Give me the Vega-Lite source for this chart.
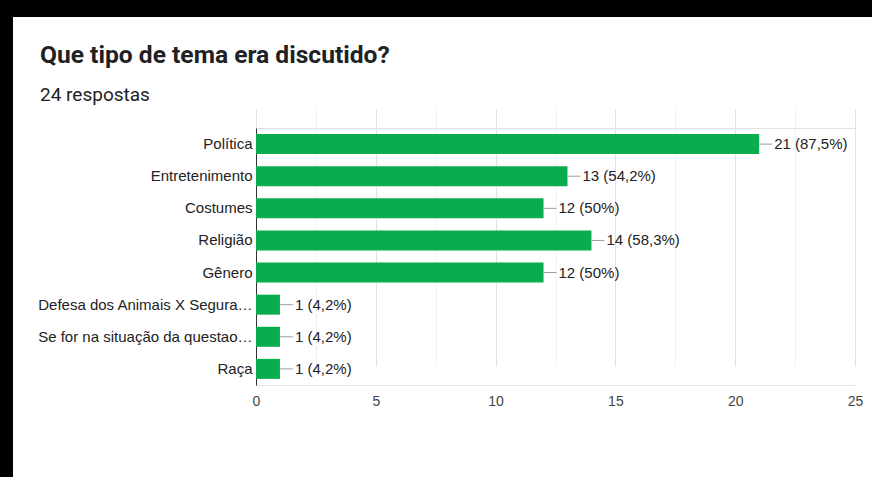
{
  "$schema": "https://vega.github.io/schema/vega-lite/v6.json",
  "width": 859,
  "height": 460,
  "autosize": {"type": "none"},
  "padding": {"left": 13, "top": 17, "right": 0, "bottom": 0},
  "background": "#000000",
  "view": {"fill": "#ffffff", "stroke": null},
  "title": {
    "text": "Que tipo de tema era discutido?",
    "subtitle": "24 respostas",
    "anchor": "start",
    "frame": "group",
    "dx": 27,
    "dy": 93,
    "font": "Roboto",
    "fontSize": 24.6,
    "fontWeight": "bold",
    "color": "#202124",
    "subtitleFont": "Roboto",
    "subtitleFontSize": 19,
    "subtitleColor": "#202124",
    "subtitlePadding": 17
  },
  "data": {
    "values": [
      {"tema": "Política", "n": 21, "label": "21 (87,5%)"},
      {"tema": "Entretenimento", "n": 13, "label": "13 (54,2%)"},
      {"tema": "Costumes", "n": 12, "label": "12 (50%)"},
      {"tema": "Religião", "n": 14, "label": "14 (58,3%)"},
      {"tema": "Gênero", "n": 12, "label": "12 (50%)"},
      {"tema": "Defesa dos Animais X Segura…", "n": 1, "label": "1 (4,2%)"},
      {"tema": "Se for na situação da questao…", "n": 1, "label": "1 (4,2%)"},
      {"tema": "Raça", "n": 1, "label": "1 (4,2%)"}
    ]
  },
  "encoding": {
    "y": {
      "field": "tema",
      "type": "nominal",
      "sort": null,
      "scale": {"range": [111, 368], "paddingInner": 0.377, "paddingOuter": 0.19},
      "axis": {
        "orient": "left",
        "offset": -243,
        "title": null,
        "ticks": false,
        "labelPadding": 4,
        "domainColor": "#333333",
        "labelFont": "Liberation Sans",
        "labelFontSize": 15,
        "labelColor": "#222222",
        "labelLimit": 300,
        "grid": false
      }
    }
  },
  "layer": [
    {
      "mark": {"type": "bar", "color": "#0aad4e"},
      "encoding": {
        "x": {
          "field": "n",
          "type": "quantitative",
          "scale": {"domain": [0, 25], "range": [243, 842], "nice": false, "zero": true},
          "axis": {
            "orient": "bottom",
            "offset": -92,
            "title": null,
            "values": [0, 2.5, 5, 7.5, 10, 12.5, 15, 17.5, 20, 22.5, 25],
            "labelExpr": "datum.value % 5 === 0 ? '' + datum.value : ''",
            "labelFlush": false,
            "grid": true,
            "gridColor": {"condition": {"test": "datum.value % 5 === 0", "value": "#e2e2e2"}, "value": "#f1f1f1"},
            "domainColor": "#e2e2e2",
            "ticks": false,
            "tickSize": 0,
            "labelPadding": 9,
            "labelFont": "Liberation Sans",
            "labelFontSize": 14,
            "labelColor": "#444444"
          }
        }
      }
    },
    {
      "mark": {"type": "rule", "color": "#9e9e9e", "strokeWidth": 1, "x2Offset": 13},
      "encoding": {
        "x": {"field": "n", "type": "quantitative", "axis": null},
        "x2": {"field": "n"}
      }
    },
    {
      "mark": {"type": "text", "align": "left", "baseline": "middle", "dx": 15, "font": "Liberation Sans", "fontSize": 15, "color": "#222222"},
      "encoding": {
        "x": {
          "field": "n",
          "type": "quantitative",
          "axis": {
            "orient": "top",
            "offset": -111,
            "title": null,
            "labels": false,
            "ticks": false,
            "grid": false,
            "domainColor": "#e2e2e2"
          }
        },
        "text": {"field": "label"}
      }
    }
  ],
  "resolve": {"axis": {"x": "independent"}}
}
